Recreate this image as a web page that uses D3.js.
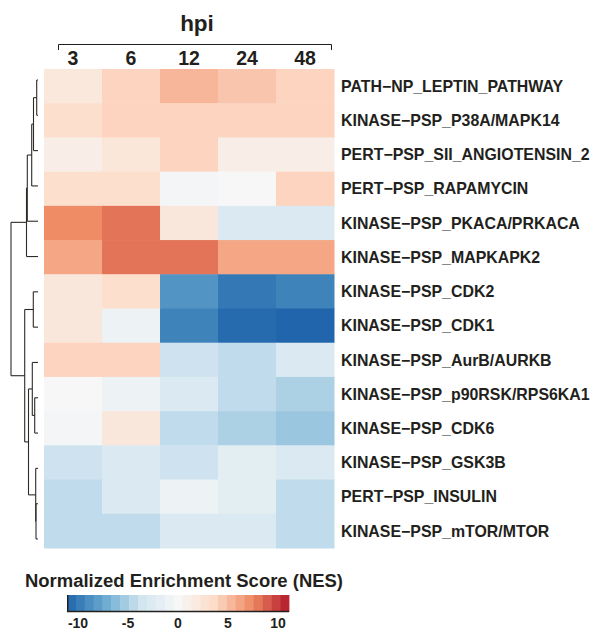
<!DOCTYPE html>
<html>
<head>
<meta charset="utf-8">
<script src="https://cdn.jsdelivr.net/npm/d3@7"></script>
<style>
  html, body { margin: 0; padding: 0; background: #fff; }
  svg { display: block; font-family: "Liberation Sans", Arial, Helvetica, sans-serif; }
</style>
</head>
<body>
<svg id="chart" width="592" height="633"></svg>
<script>
// Time points (hours post infection)
const timepoints = ["3", "6", "12", "24", "48"];

// Gene sets, in dendrogram order
const genesets = [
  "PATH\u2212NP_LEPTIN_PATHWAY",
  "KINASE\u2212PSP_P38A/MAPK14",
  "PERT\u2212PSP_SII_ANGIOTENSIN_2",
  "PERT\u2212PSP_RAPAMYCIN",
  "KINASE\u2212PSP_PKACA/PRKACA",
  "KINASE\u2212PSP_MAPKAPK2",
  "KINASE\u2212PSP_CDK2",
  "KINASE\u2212PSP_CDK1",
  "KINASE\u2212PSP_AurB/AURKB",
  "KINASE\u2212PSP_p90RSK/RPS6KA1",
  "KINASE\u2212PSP_CDK6",
  "KINASE\u2212PSP_GSK3B",
  "PERT\u2212PSP_INSULIN",
  "KINASE\u2212PSP_mTOR/MTOR"
];

// NES per gene set (rows) and time point (columns 3, 6, 12, 24, 48 hpi)
const nes = [
  [ 2.0,  4.0,  5.4,   4.7,   4.0],
  [ 3.2,  4.0,  4.0,   4.0,   4.0],
  [ 1.2,  2.2,  4.0,   1.2,   1.2],
  [ 3.2,  3.2, -0.4,   0.0,   4.0],
  [ 7.3,  8.1,  2.1,  -2.7,  -2.7],
  [ 6.1,  8.1,  8.1,   6.1,   6.1],
  [ 2.1,  3.2, -8.5, -10.1,  -9.5],
  [ 2.1, -1.0, -9.5, -10.8, -11.1],
  [ 4.0,  4.0, -3.8,  -4.3,  -2.7],
  [ 0.0, -1.0, -2.7,  -4.3,  -5.0],
  [-0.4,  2.1, -4.3,  -5.0,  -5.6],
  [-3.8, -2.7, -3.8,  -1.9,  -2.7],
  [-4.3, -2.7, -1.0,  -1.9,  -4.3],
  [-4.3, -4.3, -2.7,  -2.7,  -4.3]
];

// Row clustering, hclust-style merges: [left, right, height];
// negative = leaf (1-based row), positive = earlier merge (1-based)
const merges = [
  [-1, -2, 1.3],
  [1, -3, 4.5],
  [2, -4, 6.3],
  [3, -5, 10.7],
  [4, -6, 11.5],
  [-7, -8, 4.7],
  [-10, -11, 3.3],
  [-9, 7, 5.7],
  [-13, -14, 2.0],
  [-12, 9, 2.3],
  [8, 10, 9.5],
  [6, 11, 13.3],
  [5, 12, 27.0]
];

// Colour legend
const legendTicks = [-10, -5, 0, 5, 10];
const nesLimit = 11.1;
const legendSteps = 25;
const palette = ["#2166AC", "#67A9CF", "#D1E5F0", "#F7F7F7", "#FDDBC7", "#EF8A62", "#B2182B"];

const svg = d3.select("#chart");
const ink = "#231f1c";

const grid = { left: 44, right: 334, top: 69, bottom: 548 };

const x = d3.scaleBand().domain(timepoints).range([grid.left, grid.right]);
const y = d3.scaleBand().domain(genesets).range([grid.top, grid.bottom]);

const color = d3.scaleLinear()
  .domain(d3.range(palette.length).map(i => -nesLimit + i * (2 * nesLimit) / (palette.length - 1)))
  .range(palette)
  .interpolate(d3.interpolateRgb)
  .clamp(true);

// Heatmap cells
const cells = [];
genesets.forEach((g, i) => timepoints.forEach((t, j) => cells.push({ g, t, v: nes[i][j] })));

svg.append("g").selectAll("rect")
  .data(cells)
  .join("rect")
  .attr("x", d => x(d.t))
  .attr("y", d => y(d.g))
  .attr("width", x.bandwidth() + 0.5)
  .attr("height", y.bandwidth() + 0.5)
  .attr("fill", d => color(d.v));

// Row labels
svg.append("g").selectAll("text")
  .data(genesets)
  .join("text")
  .attr("x", grid.right + 7)
  .attr("y", d => y(d) + y.bandwidth() / 2)
  .attr("dy", "0.36em")
  .attr("font-size", 15.9)
  .attr("font-weight", "bold")
  .attr("fill", ink)
  .text(d => d);

// Column labels
svg.append("g").selectAll("text")
  .data(timepoints)
  .join("text")
  .attr("x", d => x(d) + x.bandwidth() / 2)
  .attr("y", 65)
  .attr("text-anchor", "middle")
  .attr("font-size", 19.5)
  .attr("font-weight", "bold")
  .attr("fill", ink)
  .text(d => d);

// "hpi" header with bracket
svg.append("text")
  .attr("x", 197)
  .attr("y", 30.5)
  .attr("text-anchor", "middle")
  .attr("font-size", 22.5)
  .attr("font-weight", "bold")
  .attr("fill", ink)
  .text("hpi");

svg.append("path")
  .attr("d", "M58.5,50V44.5H331.5V50")
  .attr("fill", "none")
  .attr("stroke", ink)
  .attr("stroke-width", 1);

// Dendrogram
const dy = d3.scalePoint().domain(genesets).range([grid.top + 11, grid.bottom - 9]);
const dx = d3.scaleLinear().domain([0, d3.max(merges, m => m[2])]).range([38, 11]);

const nodes = [];
function nodeOf(ref) {
  if (ref < 0) return { x: dx(0), y: dy(genesets[-ref - 1]) };
  return nodes[ref - 1];
}
const segs = [];
merges.forEach(([a, b, h]) => {
  const na = nodeOf(a), nb = nodeOf(b), mx = dx(h);
  segs.push([mx, na.y, mx, nb.y]);
  segs.push([mx, na.y, na.x, na.y]);
  segs.push([mx, nb.y, nb.x, nb.y]);
  nodes.push({ x: mx, y: (na.y + nb.y) / 2 });
});

svg.append("g")
  .attr("stroke", "#2e2a26")
  .attr("stroke-width", 1.1)
  .selectAll("line")
  .data(segs)
  .join("line")
  .attr("x1", d => d[0]).attr("y1", d => d[1])
  .attr("x2", d => d[2]).attr("y2", d => d[3]);

// Legend
const lx = d3.scaleLinear().domain([-nesLimit, nesLimit]).range([67, 289]);
const legend = svg.append("g");
const stepW = (2 * nesLimit) / legendSteps;
legend.selectAll("rect")
  .data(d3.range(legendSteps))
  .join("rect")
  .attr("x", i => lx(-nesLimit + i * stepW))
  .attr("y", 595)
  .attr("width", i => lx(-nesLimit + (i + 1) * stepW) - lx(-nesLimit + i * stepW) + 0.4)
  .attr("height", 17)
  .attr("fill", i => color(-nesLimit + (i + 0.5) * stepW));

legend.append("path")
  .attr("d", `M${lx(-nesLimit) + 0.75},595V${611.5}H${lx(nesLimit)}`)
  .attr("fill", "none")
  .attr("stroke", ink)
  .attr("stroke-width", 1.5);

legend.selectAll("text.tick")
  .data(legendTicks)
  .join("text")
  .attr("class", "tick")
  .attr("x", d => lx(d))
  .attr("y", 628)
  .attr("text-anchor", "middle")
  .attr("font-size", 14)
  .attr("font-weight", "bold")
  .attr("fill", ink)
  .text(d => d);

legend.append("text")
  .attr("x", 25)
  .attr("y", 587)
  .attr("font-size", 17.5)
  .attr("font-weight", "bold")
  .attr("fill", ink)
  .attr("textLength", 318)
  .attr("lengthAdjust", "spacingAndGlyphs")
  .text("Normalized Enrichment Score (NES)");
</script>
</body>
</html>
